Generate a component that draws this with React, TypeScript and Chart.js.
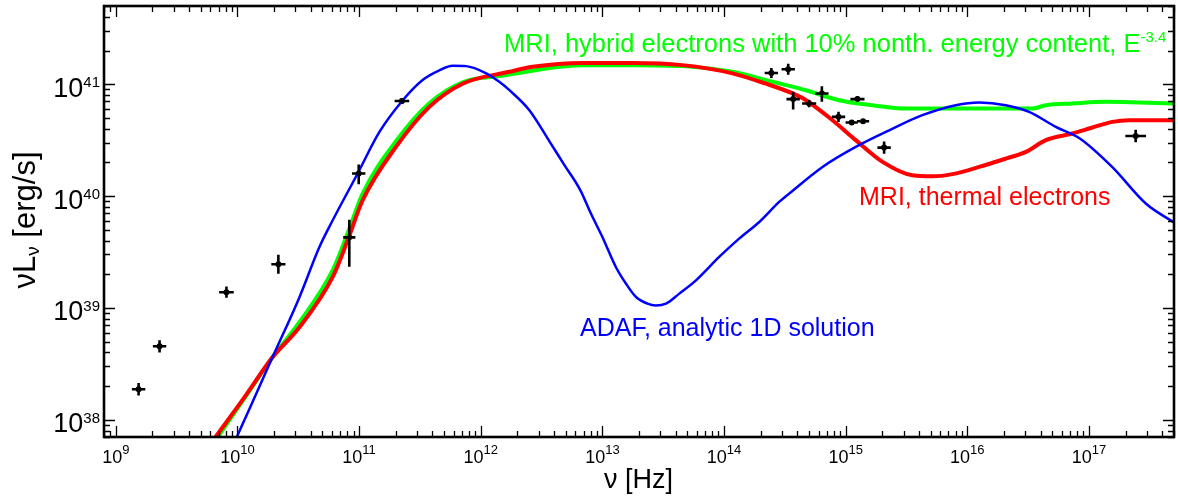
import React, { useEffect, useRef } from 'react';
import { Chart, registerables } from 'chart.js';

Chart.register(...registerables);

// ---- axis ranges and ticks ----
const X_MIN = 8e8;
const X_MAX = 5e17;
const Y_MIN = 7e37;
const Y_MAX = 5e41;
const xTickExponents = [9, 10, 11, 12, 13, 14, 15, 16, 17];
const yTickExponents = [38, 39, 40, 41];
const xAxisTitle = 'ν [Hz]';
const yAxisTitleMain = 'νL';
const yAxisTitleSub = 'ν';
const yAxisTitleRest = ' [erg/s]';

// ---- model curves ----
const adafNu = [9.87e9, 1.26e10, 1.94e10, 3.23e10, 4.72e10, 6.07e10, 9.73e10, 1.47e11, 2.26e11, 3.33e11, 4.57e11, 5.88e11, 7.57e11, 1.11e12, 1.42e12, 1.72e12, 2.51e12, 3.66e12, 4.86e12, 6.58e12, 8.05e12, 1.0e13, 1.29e13, 1.56e13, 1.89e13, 2.35e13, 2.75e13, 3.33e13, 4.29e13, 5.88e13, 9.12e13, 1.33e14, 1.95e14, 2.84e14, 3.43e14, 6.45e14, 1.21e15, 2.28e15, 4.27e15, 8.04e15, 1.25e16, 2.07e16, 3.22e16, 5.33e16, 8.41e16, 1.55e17, 2.93e17, 5.17e17];
const adafL = [6.98e37, 1.26e38, 3.61e38, 1.24e39, 3.5e39, 6.07e39, 1.59e40, 3.74e40, 7.08e40, 1.09e41, 1.33e41, 1.46e41, 1.45e41, 1.25e41, 1.05e41, 8.84e40, 5.85e40, 3.1e40, 1.9e40, 1.13e40, 6.97e39, 4.3e39, 2.32e39, 1.65e39, 1.25e39, 1.09e39, 1.05e39, 1.09e39, 1.34e39, 1.76e39, 2.85e39, 4.16e39, 5.86e39, 8.85e39, 1.05e40, 1.82e40, 2.75e40, 3.87e40, 5.28e40, 6.49e40, 6.86e40, 6.49e40, 5.65e40, 4.15e40, 3.27e40, 1.82e40, 8.57e39, 5.67e39];

const thermalNu = [6.59e9, 1.14e10, 1.94e10, 3.23e10, 6.07e10, 8.05e10, 1.07e11, 2.01e11, 3.78e11, 7.1e11, 1.72e12, 2.67e12, 6.87e12, 1.77e13, 4.56e13, 1.17e14, 2.21e14, 3.66e14, 4.71e14, 7.79e14, 1.21e15, 2.01e15, 3.54e15, 5.17e15, 7.54e15, 1.25e16, 2.07e16, 3.03e16, 4.42e16, 7.31e16, 1.07e17, 1.56e17, 2.13e17, 5.26e17];
const thermalL = [6.98e37, 1.58e38, 3.61e38, 6.7e38, 1.89e39, 4.02e39, 9.16e39, 2.75e40, 6.27e40, 1.01e41, 1.29e41, 1.43e41, 1.55e41, 1.55e41, 1.48e41, 1.25e41, 1.01e41, 8.26e40, 7.19e40, 4.76e40, 3.16e40, 2.02e40, 1.53e40, 1.5e40, 1.57e40, 1.82e40, 2.16e40, 2.48e40, 3.16e40, 3.62e40, 4.1e40, 4.6e40, 4.76e40, 4.76e40];

const hybridNu = [6.89e9, 1.14e10, 1.94e10, 3.23e10, 6.07e10, 8.05e10, 1.07e11, 2.01e11, 3.78e11, 7.1e11, 1.42e12, 6.87e12, 1.77e13, 4.56e13, 1.17e14, 2.5e14, 4.71e14, 8.83e14, 1.66e15, 3.12e15, 5.87e15, 1.1e16, 2.07e16, 3.43e16, 4.42e16, 7.31e16, 1.37e17, 2.58e17, 5.26e17];
const hybridL = [6.98e37, 1.55e38, 3.61e38, 7.43e38, 2.17e39, 4.65e39, 1.05e40, 3.09e40, 6.76e40, 1.04e41, 1.18e41, 1.48e41, 1.48e41, 1.45e41, 1.29e41, 1.05e41, 8.83e40, 7.19e40, 6.49e40, 6.06e40, 6.06e40, 6.06e40, 6.06e40, 6.06e40, 6.49e40, 6.72e40, 6.95e40, 6.86e40, 6.72e40];

// ---- observed data with error bars (errors in dex) ----
const obsNu = [1.54e9, 2.29e9, 8.12e9, 2.17e10, 8.31e10, 9.93e10, 2.25e11, 2.45e14, 3.37e14, 3.7e14, 5.01e14, 6.37e14, 8.73e14, 1.12e15, 1.39e15, 1.25e15, 2.07e15, 2.42e17];
const obsL = [1.87e38, 4.53e38, 1.38e39, 2.45e39, 4.27e39, 1.59e40, 7.08e40, 1.26e41, 1.36e41, 7.35e40, 6.72e40, 8.26e40, 5.1e40, 4.54e40, 4.66e40, 7.35e40, 2.71e40, 3.44e40];
const obsErrXDex = [0.055, 0.055, 0.06, 0.058, 0.05, 0.055, 0.06, 0.055, 0.055, 0.055, 0.058, 0.055, 0.055, 0.05, 0.05, 0.058, 0.055, 0.085];
const obsErrLoDex = [0.055, 0.055, 0.05, 0.085, 0.262, 0.096, 0.025, 0.045, 0.05, 0.092, 0.033, 0.075, 0.045, 0.02, 0.02, 0.025, 0.055, 0.056];
const obsErrHiDex = [0.055, 0.055, 0.05, 0.085, 0.158, 0.08, 0.025, 0.045, 0.05, 0.065, 0.033, 0.065, 0.045, 0.02, 0.02, 0.025, 0.055, 0.056];

// ---- annotation texts ----
const labelAdaf = 'ADAF, analytic 1D solution';
const labelThermal = 'MRI, thermal electrons';
const labelHybrid = 'MRI, hybrid electrons with 10% nonth. energy content, E';
const labelHybridExp = '-3.4';

const BLUE = '#0000ff';
const RED = '#ff0000';
const GREEN = '#00ff00';
const FONT_FAMILY = '"Liberation Sans", Arial, Helvetica, sans-serif';
const f = (px: number) => `${px}px ${FONT_FAMILY}`;

const toXY = (xs: number[], ys: number[]) => xs.map((x, i) => ({ x, y: ys[i] }));

function drawPower(ctx: CanvasRenderingContext2D, base: string, exp: string, x: number, y: number, baseSize: number, expSize: number, rise: number, align: 'center' | 'right' | 'left') {
  ctx.font = f(baseSize);
  const wb = ctx.measureText(base).width;
  ctx.font = f(expSize);
  const we = ctx.measureText(exp).width;
  const total = wb + we;
  let x0 = x;
  if (align === 'center') x0 = x - total / 2;
  else if (align === 'right') x0 = x - total;
  ctx.textAlign = 'left';
  ctx.textBaseline = 'alphabetic';
  ctx.font = f(baseSize);
  ctx.fillText(base, x0, y);
  ctx.font = f(expSize);
  ctx.fillText(exp, x0 + wb, y - rise);
}

const errorBarPlugin = {
  id: 'errorBars',
  afterDatasetsDraw(chart: any) {
    const { ctx } = chart;
    const xs = chart.scales.x;
    const ys = chart.scales.y;
    ctx.save();
    ctx.strokeStyle = '#000';
    ctx.lineWidth = 2.6;
    ctx.lineCap = 'butt';
    obsNu.forEach((nu, i) => {
      const L = obsL[i];
      const px = xs.getPixelForValue(nu);
      const py = ys.getPixelForValue(L);
      const xl = xs.getPixelForValue(nu / Math.pow(10, obsErrXDex[i]));
      const xr = xs.getPixelForValue(nu * Math.pow(10, obsErrXDex[i]));
      const yl = ys.getPixelForValue(L / Math.pow(10, obsErrLoDex[i]));
      const yh = ys.getPixelForValue(L * Math.pow(10, obsErrHiDex[i]));
      ctx.beginPath();
      ctx.moveTo(xl, py);
      ctx.lineTo(xr, py);
      ctx.moveTo(px, yl);
      ctx.lineTo(px, yh);
      ctx.stroke();
    });
    ctx.restore();
  },
};

const framePlugin = {
  id: 'frameTicks',
  afterDraw(chart: any) {
    const { ctx, chartArea: a } = chart;
    const xs = chart.scales.x;
    const ys = chart.scales.y;
    ctx.save();
    ctx.strokeStyle = '#000';
    ctx.lineWidth = 1.3;
    ctx.beginPath();
    for (let e = Math.floor(Math.log10(X_MIN)); e <= Math.ceil(Math.log10(X_MAX)); e++) {
      for (let m = 1; m <= 9; m++) {
        const v = m * Math.pow(10, e);
        if (v < X_MIN || v > X_MAX) continue;
        const px = Math.round(xs.getPixelForValue(v)) + 0.5;
        const len = m === 1 ? 11 : 6;
        ctx.moveTo(px, a.bottom);
        ctx.lineTo(px, a.bottom - len);
        ctx.moveTo(px, a.top);
        ctx.lineTo(px, a.top + len);
      }
    }
    for (let e = Math.floor(Math.log10(Y_MIN)); e <= Math.ceil(Math.log10(Y_MAX)); e++) {
      for (let m = 1; m <= 9; m++) {
        const v = m * Math.pow(10, e);
        if (v < Y_MIN || v > Y_MAX) continue;
        const py = Math.round(ys.getPixelForValue(v)) + 0.5;
        const len = m === 1 ? 11 : 6;
        ctx.moveTo(a.left, py);
        ctx.lineTo(a.left + len, py);
        ctx.moveTo(a.right, py);
        ctx.lineTo(a.right - len, py);
      }
    }
    ctx.stroke();
    ctx.lineWidth = 2.6;
    ctx.strokeRect(a.left, a.top, a.right - a.left, a.bottom - a.top);

    // tick labels
    ctx.fillStyle = '#000';
    xTickExponents.forEach((e) => {
      const px = xs.getPixelForValue(Math.pow(10, e));
      drawPower(ctx, '10', String(e), px, a.bottom + 26, 18, 13, 9, 'center');
    });
    yTickExponents.forEach((e) => {
      const py = ys.getPixelForValue(Math.pow(10, e));
      drawPower(ctx, '10', String(e), a.left - 4, py + 12.5, 27, 15, 9.5, 'right');
    });

    // axis titles
    ctx.font = f(27);
    ctx.textAlign = 'center';
    ctx.textBaseline = 'alphabetic';
    ctx.fillText(xAxisTitle, (a.left + a.right) / 2 - 0.5, 488);

    ctx.save();
    ctx.translate(35, 220);
    ctx.rotate(-Math.PI / 2);
    ctx.font = f(31);
    const w1 = ctx.measureText(yAxisTitleMain).width;
    const w3 = ctx.measureText(yAxisTitleRest).width;
    ctx.font = f(19);
    const w2 = ctx.measureText(yAxisTitleSub).width;
    const tot = w1 + w2 + w3;
    const x0 = -tot / 2;
    ctx.textAlign = 'left';
    ctx.font = f(31);
    ctx.fillText(yAxisTitleMain, x0, 0);
    ctx.font = f(19);
    ctx.fillText(yAxisTitleSub, x0 + w1, 4);
    ctx.font = f(31);
    ctx.fillText(yAxisTitleRest, x0 + w1 + w2, 0);
    ctx.restore();

    // annotations
    ctx.textAlign = 'left';
    ctx.fillStyle = GREEN;
    drawPower(ctx, labelHybrid, labelHybridExp, 504, 52, 25.5, 15, 10, 'left');
    ctx.fillStyle = RED;
    ctx.font = f(25);
    ctx.fillText(labelThermal, 859, 205);
    ctx.fillStyle = BLUE;
    ctx.fillText(labelAdaf, 580, 336);
    ctx.restore();
  },
};

export default function App() {
  const canvasRef = useRef<HTMLCanvasElement | null>(null);

  useEffect(() => {
    const canvas = canvasRef.current;
    if (!canvas) return;
    const chart = new Chart(canvas, {
      type: 'scatter',
      data: {
        datasets: [
          {
            label: labelAdaf,
            data: toXY(adafNu, adafL),
            showLine: true,
            borderColor: BLUE,
            borderWidth: 2.5,
            pointRadius: 0,
            cubicInterpolationMode: 'monotone',
            clip: 0,
          },
          {
            label: labelThermal,
            data: toXY(thermalNu, thermalL),
            showLine: true,
            borderColor: RED,
            borderWidth: 4,
            pointRadius: 0,
            cubicInterpolationMode: 'monotone',
            clip: 0,
          },
          {
            label: labelHybrid,
            data: toXY(hybridNu, hybridL),
            showLine: true,
            borderColor: GREEN,
            borderWidth: 4,
            pointRadius: 0,
            cubicInterpolationMode: 'monotone',
            clip: 0,
          },
          {
            label: 'data',
            data: toXY(obsNu, obsL),
            showLine: false,
            pointRadius: 3,
            pointBackgroundColor: '#000',
            pointBorderColor: '#000',
            pointBorderWidth: 0,
            clip: 0,
          },
        ] as any,
      },
      options: {
        responsive: false,
        maintainAspectRatio: false,
        devicePixelRatio: 1,
        animation: false,
        layout: { padding: { left: 104, top: 6, right: 2, bottom: 59 } },
        plugins: { legend: { display: false }, tooltip: { enabled: false } },
        scales: {
          x: { type: 'logarithmic', display: false, min: X_MIN, max: X_MAX, bounds: 'data' },
          y: { type: 'logarithmic', display: false, min: Y_MIN, max: Y_MAX, bounds: 'data' },
        },
      } as any,
      plugins: [errorBarPlugin, framePlugin],
    });
    return () => chart.destroy();
  }, []);

  return (
    <div style={{ position: 'absolute', left: 0, top: 0, width: 1178, height: 496, background: '#fff' }}>
      <canvas ref={canvasRef} width={1178} height={496} style={{ display: 'block', width: 1178, height: 496 }} />
    </div>
  );
}
